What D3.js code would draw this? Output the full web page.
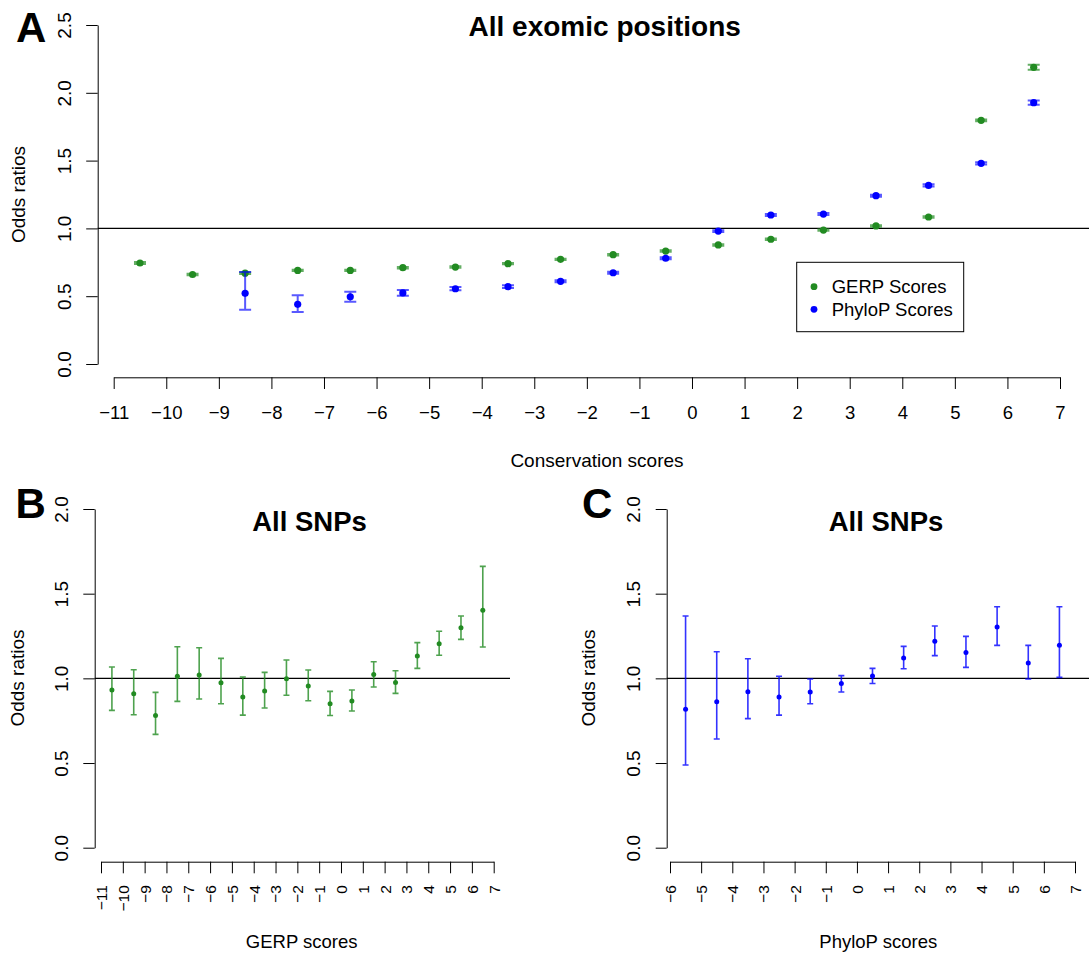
<!DOCTYPE html>
<html><head><meta charset="utf-8">
<script src="https://cdn.jsdelivr.net/npm/d3@7"></script>
<style>
body{margin:0;background:#fff}
svg{display:block}
text{font-family:"Liberation Sans",Arial,Helvetica,sans-serif;fill:#000}
</style>
</head><body>
<svg id="chart" width="1089" height="953"></svg>
<script>
// ---------- DATA ----------
// Panel A: all exomic positions
const gerpBinsA = [-10.5,-9.5,-8.5,-7.5,-6.5,-5.5,-4.5,-3.5,-2.5,-1.5,-0.5,0.5,1.5,2.5,3.5,4.5,5.5,6.5];
const gerpOrA   = [0.745,0.66,0.67,0.69,0.69,0.71,0.715,0.74,0.772,0.806,0.833,0.878,0.92,0.988,1.018,1.084,1.797,2.188];
const gerpLoA   = [0.737,0.654,0.664,0.685,0.685,0.705,0.710,0.735,0.767,0.801,0.827,0.872,0.914,0.982,1.012,1.078,1.790,2.170];
const gerpHiA   = [0.753,0.666,0.676,0.695,0.695,0.715,0.720,0.745,0.777,0.811,0.839,0.884,0.926,0.994,1.024,1.090,1.804,2.206];

const phyloBinsA = [-8.5,-7.5,-6.5,-5.5,-4.5,-3.5,-2.5,-1.5,-0.5,0.5,1.5,2.5,3.5,4.5,5.5,6.5];
const phyloOrA   = [0.521,0.44,0.496,0.524,0.555,0.57,0.61,0.673,0.78,0.98,1.099,1.106,1.241,1.317,1.48,1.927];
const phyloLoA   = [0.40,0.383,0.459,0.503,0.543,0.560,0.602,0.666,0.772,0.973,1.092,1.098,1.233,1.309,1.472,1.911];
const phyloHiA   = [0.678,0.507,0.533,0.545,0.567,0.580,0.618,0.680,0.788,0.987,1.106,1.114,1.249,1.325,1.488,1.943];

// Panel B: all SNPs by GERP score
const gerpBinsB = [-10.5,-9.5,-8.5,-7.5,-6.5,-5.5,-4.5,-3.5,-2.5,-1.5,-0.5,0.5,1.5,2.5,3.5,4.5,5.5,6.5];
const gerpOrB   = [0.931,0.909,0.781,1.012,1.020,0.974,0.890,0.925,0.998,0.955,0.850,0.866,1.022,0.976,1.132,1.205,1.299,1.402];
const gerpLoB   = [0.811,0.785,0.669,0.864,0.878,0.850,0.783,0.825,0.900,0.868,0.781,0.807,0.949,0.911,1.059,1.136,1.230,1.185];
const gerpHiB   = [1.067,1.051,0.917,1.187,1.181,1.118,1.008,1.035,1.108,1.049,0.923,0.931,1.098,1.045,1.211,1.278,1.368,1.661];

// Panel C: all SNPs by PhyloP score
const phyloBinsC = [-5.5,-4.5,-3.5,-2.5,-1.5,-0.5,0.5,1.5,2.5,3.5,4.5,5.5,6.5];
const phyloOrC   = [0.817,0.862,0.921,0.890,0.919,0.969,1.014,1.120,1.219,1.152,1.303,1.091,1.195];
const phyloLoC   = [0.488,0.642,0.762,0.783,0.850,0.919,0.970,1.057,1.134,1.065,1.195,0.996,1.006];
const phyloHiC   = [1.368,1.157,1.116,1.012,0.996,1.016,1.059,1.189,1.309,1.248,1.423,1.195,1.423];

// Tick values
const xTicksA = [-11,-10,-9,-8,-7,-6,-5,-4,-3,-2,-1,0,1,2,3,4,5,6,7];
const yTicksA = [0,0.5,1.0,1.5,2.0,2.5];
const xTicksB = [-11,-10,-9,-8,-7,-6,-5,-4,-3,-2,-1,0,1,2,3,4,5,6,7];
const xTicksC = [-6,-5,-4,-3,-2,-1,0,1,2,3,4,5,6,7];
const yTicksBC = [0,0.5,1.0,1.5,2.0];
const legendLabels = ["GERP Scores","PhyloP Scores"];

// ---------- DRAWING ----------
const GREEN = "#228B22", BLUE = "#0000FF";
const svg = d3.select("#chart");
const fmtY = d3.format(".1f");

function zip(bins, or, lo, hi){ return bins.map((b,i)=>({x:b, v:or[i], lo:lo[i], hi:hi[i]})); }

function yAxis(g, scale, ticks, axisX, tickLen, labelBaselineX, fs){
  const ax = d3.axisLeft(scale).tickValues(ticks).tickFormat(fmtY).tickSize(tickLen).tickSizeOuter(0);
  const a = g.append("g").attr("transform",`translate(${axisX},0)`).call(ax);
  a.selectAll("path,line").attr("stroke","#000").attr("stroke-width",1);
  a.selectAll("text").attr("transform","rotate(-90)").attr("x",0).attr("dy",0)
    .attr("y", -(axisX - labelBaselineX)).attr("text-anchor","middle")
    .style("font-size",fs+"px").attr("fill","#000");
  a.attr("font-family",null);
}
function xAxis(g, scale, ticks, axisY, tickLen, opts){
  const ax = d3.axisBottom(scale).tickValues(ticks).tickFormat(d3.format("d")).tickSize(tickLen).tickSizeOuter(0);
  const a = g.append("g").attr("transform",`translate(0,${axisY})`).call(ax);
  a.selectAll("path,line").attr("stroke","#000").attr("stroke-width",1);
  const t = a.selectAll("text").style("font-size",opts.fs+"px").attr("fill","#000");
  if(opts.rotate){
    t.attr("transform","rotate(-90)").attr("x",-opts.offset).attr("y",0).attr("dy","0.35em").attr("text-anchor","end");
  } else {
    t.attr("y",opts.offset).attr("dy",0);
  }
  a.attr("font-family",null);
}
function errorBars(g, data, xs, ys, color, capW, sw, r, alpha){
  const eb = g.append("g").attr("stroke",color).attr("stroke-opacity",alpha).attr("stroke-width",sw).attr("fill","none");
  data.forEach(d=>{
    const x = xs(d.x);
    eb.append("path").attr("d",
      `M${x},${ys(d.lo)}V${ys(d.hi)}M${x-capW},${ys(d.lo)}H${x+capW}M${x-capW},${ys(d.hi)}H${x+capW}`);
  });
  g.append("g").selectAll("circle").data(data).join("circle")
    .attr("cx",d=>xs(d.x)).attr("cy",d=>ys(d.v)).attr("r",r).attr("fill",color);
}
function text(x,y,s,fs,opts={}){
  const t = svg.append("text").attr("x",x).attr("y",y).text(s).style("font-size",fs+"px");
  if(opts.bold) t.style("font-weight","bold");
  if(opts.anchor) t.attr("text-anchor",opts.anchor);
  if(opts.rotate) t.attr("transform",`rotate(-90,${x},${y})`);
  if(opts.dy) t.attr("dy",opts.dy);
  return t;
}

// ----- Panel A -----
{
  const xs = d3.scaleLinear().domain([-11,7]).range([113.7,1060]);
  const ys = d3.scaleLinear().domain([0,2.5]).range([364,25]);
  const g = svg.append("g");
  g.append("line").attr("x1",97.7).attr("x2",1089).attr("y1",ys(1)).attr("y2",ys(1)).attr("stroke","#000").attr("stroke-width",1.2);
  yAxis(g, ys, yTicksA, 97.7, 11.5, 70.7, 19);
  xAxis(g, xs, xTicksA, 377.3, 11.7, {fs:18.5, offset:42});
  errorBars(g, zip(gerpBinsA,gerpOrA,gerpLoA,gerpHiA), xs, ys, GREEN, 6, 2, 3.6, 0.7);
  errorBars(g, zip(phyloBinsA,phyloOrA,phyloLoA,phyloHiA), xs, ys, BLUE, 6, 2, 3.6, 0.65);
  // legend
  const lg = g.append("g");
  lg.append("rect").attr("x",796.7).attr("y",262.3).attr("width",167).attr("height",69.4)
    .attr("fill","#fff").attr("stroke","#000").attr("stroke-width",1);
  [GREEN,BLUE].forEach((c,i)=>{
    const yy = 286.7 + i*22.6;
    lg.append("circle").attr("cx",814).attr("cy",yy).attr("r",3.4).attr("fill",c);
    lg.append("text").attr("x",831.7).attr("y",yy).attr("dy","0.36em").text(legendLabels[i]).style("font-size","18.5px");
  });
  text(604.7,35.7,"All exomic positions",28,{bold:true,anchor:"middle"});
  text(25,194.5,"Odds ratios",19,{anchor:"middle",rotate:true});
  text(597,466.7,"Conservation scores",19,{anchor:"middle"});
  text(16,41.7,"A",42,{bold:true});
}

// ----- Panel B -----
{
  const xs = d3.scaleLinear().domain([-11,7]).range([101,493.7]);
  const ys = d3.scaleLinear().domain([0,2]).range([847.7,509]);
  const g = svg.append("g");
  g.append("line").attr("x1",94.7).attr("x2",510).attr("y1",ys(1)).attr("y2",ys(1)).attr("stroke","#000").attr("stroke-width",1.2);
  yAxis(g, ys, yTicksBC, 94.7, 11.4, 68.3, 19);
  xAxis(g, xs, xTicksB, 861.7, 11.6, {fs:15.5, offset:23.5, rotate:true});
  errorBars(g, zip(gerpBinsB,gerpOrB,gerpLoB,gerpHiB), xs, ys, GREEN, 3, 1.6, 2.5, 0.8);
  text(309.5,530.7,"All SNPs",27.5,{bold:true,anchor:"middle"});
  text(24,678,"Odds ratios",19,{anchor:"middle",rotate:true});
  text(301.7,948,"GERP scores",18.5,{anchor:"middle"});
  text(15.5,518,"B",42,{bold:true});
}

// ----- Panel C -----
{
  const xs = d3.scaleLinear().domain([-6,7]).range([670,1075]);
  const ys = d3.scaleLinear().domain([0,2]).range([847.7,509]);
  const g = svg.append("g");
  g.append("line").attr("x1",666.7).attr("x2",1089).attr("y1",ys(1)).attr("y2",ys(1)).attr("stroke","#000").attr("stroke-width",1.2);
  yAxis(g, ys, yTicksBC, 666.7, 11, 640, 19);
  xAxis(g, xs, xTicksC, 861.7, 11.6, {fs:15.5, offset:23.5, rotate:true});
  errorBars(g, zip(phyloBinsC,phyloOrC,phyloLoC,phyloHiC), xs, ys, BLUE, 3, 1.6, 2.5, 0.8);
  text(886,530.7,"All SNPs",27.5,{bold:true,anchor:"middle"});
  text(595,678,"Odds ratios",19,{anchor:"middle",rotate:true});
  text(878.3,948,"PhyloP scores",18.5,{anchor:"middle"});
  text(582,518,"C",42,{bold:true});
}
</script>
</body></html>
